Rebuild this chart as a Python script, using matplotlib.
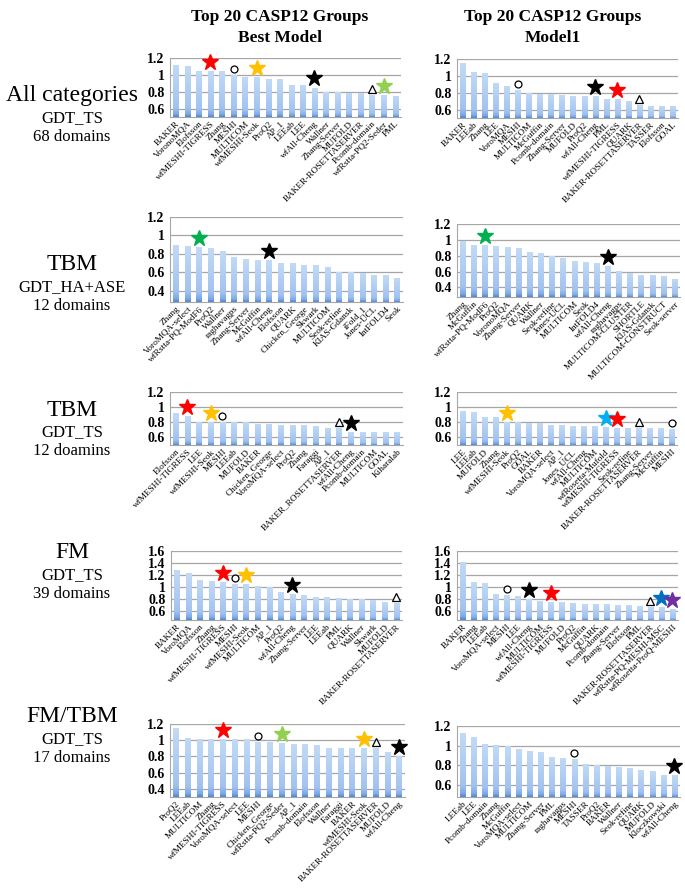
import matplotlib
matplotlib.use('Agg')
import matplotlib.pyplot as plt
import matplotlib.transforms as mtransforms
from matplotlib.colors import LinearSegmentedColormap
from matplotlib.ticker import FuncFormatter
import numpy as np

plt.rcParams['font.family'] = ['Liberation Serif', 'DejaVu Serif']

# ========== data ==========
# All categories, GDT_TS
all_best_groups = ['BAKER', 'VoronoMQA', 'Elofsson', 'wfMESHI-TIGRESS', 'Zhang', 'MESHI', 'MULTICOM',
                   'wfMESHI-Seok', 'ProQ2', 'AP_1', 'LEEab', 'LEE', 'wfAll-Cheng', 'Wallner',
                   'Zhang-Server', 'MUFOLD', 'BAKER-ROSETTASERVER', 'Pcomb-domain',
                   'wfRstta-PQ2-Seder', 'PML']
all_best_vals = [1.12, 1.11, 1.05, 1.04, 1.04, 1.00, 0.97, 0.97, 0.95, 0.95,
                 0.88, 0.88, 0.85, 0.80, 0.80, 0.79, 0.79, 0.76, 0.76, 0.75]
all_best_marks = [(3, 'red'), (5, 'circle'), (7, 'yellow'), (12, 'black'), (17, 'tri'), (18, 'lgreen')]

all_m1_groups = ['BAKER', 'LEEab', 'Zhang', 'LEE', 'VoroMQA', 'MESHI', 'MULTICOM', 'McGuffin',
                 'Pcomb-domain', 'Zhang-Server', 'MUFOLD', 'ProQ2', 'wfAll-Cheng', 'PML',
                 'wfMESHI-TIGRESS', 'QUARK', 'BAKER-ROSETTASERVER', 'TASSER', 'Elofsson', 'GOAL']
all_m1_vals = [1.15, 1.05, 1.03, 0.92, 0.88, 0.83, 0.80, 0.78, 0.78, 0.77,
               0.76, 0.76, 0.76, 0.73, 0.72, 0.70, 0.66, 0.64, 0.64, 0.64]
all_m1_marks = [(5, 'circle'), (12, 'black'), (14, 'red'), (16, 'tri')]

# TBM, GDT_HA+ASE
tbmha_best_groups = ['Zhang', 'VoroMQA-select', 'wfRstta-PQ-ModF6', 'ProQ2', 'Wallner', 'raghavagps',
                     'Zhang-Server', 'McGuffin', 'wfAll-Cheng', 'Elofsson', 'QUARK', 'Chicken_George',
                     'Skwark', 'MULTICOM', 'Seok-refine', 'KIAS-Gdansk', 'iFold_1', 'Jones-UCL',
                     'IntFOLD4', 'Seok']
tbmha_best_vals = [0.90, 0.89, 0.87, 0.86, 0.83, 0.77, 0.75, 0.73, 0.73, 0.70,
                   0.70, 0.68, 0.68, 0.66, 0.61, 0.60, 0.59, 0.57, 0.57, 0.54]
tbmha_best_marks = [(2, 'green'), (8, 'black')]

tbmha_m1_groups = ['Zhang', 'McGuffin', 'wfRstta-PQ-ModF6', 'ProQ2', 'VoronoMQA', 'Zhang-Server',
                   'QUARK', 'Wallner', 'Seok-refine', 'Jones-UCL', 'MULTICOM', 'Seok', 'IntFOLD4',
                   'wfAll-Cheng', 'raghavagps', 'MULTICOM-CLUSTER', 'SHORTLE', 'KIAS-Gdansk',
                   'MULTICOM-CONSTRUCT', 'Seok-server']
tbmha_m1_vals = [0.99, 0.94, 0.93, 0.92, 0.91, 0.90, 0.85, 0.84, 0.80, 0.77,
                 0.73, 0.72, 0.71, 0.67, 0.61, 0.58, 0.56, 0.56, 0.54, 0.51]
tbmha_m1_marks = [(2, 'green'), (13, 'black')]

# TBM, GDT_TS
tbmts_best_groups = ['Elofsson', 'wfMESHI-TIGRESS', 'LEE', 'wfMESHI-Seok', 'MESHI', 'LEEab', 'MUFOLD',
                     'BAKER', 'Chicken_George', 'VoroMQA-select', 'ProQ2', 'Zhang', 'Faraggi', 'AP_1',
                     'BAKER_ROSETTASERVER', 'wfAll-Cheng', 'Pcomb-domain', 'MULTICOM', 'GOAL',
                     'Kiharalab']
tbmts_best_vals = [0.92, 0.88, 0.81, 0.80, 0.80, 0.80, 0.80, 0.78, 0.78, 0.77,
                   0.77, 0.76, 0.75, 0.73, 0.73, 0.67, 0.67, 0.67, 0.67, 0.67]
tbmts_best_marks = [(1, 'red'), (3, 'yellow'), (4, 'circle'), (14, 'tri'), (15, 'black')]

tbmts_m1_groups = ['LEE', 'LEEab', 'MUFOLD', 'Zhang', 'wfMESHI-Seok', 'ProQ2', 'GOAL', 'BAKER',
                   'VoroMQA-select', 'AP_1', 'Jones_UCL', 'wfAll-Cheng', 'MULTICOM',
                   'wfRosetta-Mufold', 'wfMESHI-TIGRESS', 'Seok-refine', 'BAKER-ROSETTASERVER',
                   'Zhang-Server', 'McGuffin', 'MESHI']
tbmts_m1_vals = [0.95, 0.93, 0.87, 0.87, 0.80, 0.80, 0.79, 0.79, 0.77, 0.76,
                 0.75, 0.75, 0.75, 0.74, 0.73, 0.73, 0.72, 0.72, 0.72, 0.71]
tbmts_m1_marks = [(4, 'yellow'), (13, 'blue'), (14, 'red'), (16, 'tri'), (19, 'circle')]

# FM, GDT_TS
fm_best_groups = ['BAKER', 'VoroMQA', 'Elofsson', 'Zhang', 'wfMESHI-TIGRESS', 'MESHI', 'wfMESHI-Seok',
                  'MULTICOM', 'AP_1', 'ProQ2', 'wfAll-Cheng', 'Zhang-Server', 'LEE', 'LEEab', 'PML',
                  'QUARK', 'Wallner', 'Skwark', 'MUFOLD', 'BAKER-ROSETTASERVER']
fm_best_vals = [1.28, 1.23, 1.12, 1.10, 1.08, 1.05, 1.05, 1.01, 1.00, 0.91,
                0.89, 0.86, 0.83, 0.83, 0.81, 0.80, 0.80, 0.79, 0.75, 0.74]
fm_best_marks = [(4, 'red'), (5, 'circle'), (6, 'yellow'), (10, 'black'), (19, 'tri')]

fm_m1_groups = ['BAKER', 'Zhang', 'LEEab', 'VoroMQA-select', 'MESHI', 'LEE', 'wfAll-Cheng', 'MULTICOM',
                'wfMESHI-TIGRESS', 'MUFOLD', 'ProQ2', 'McGuffin', 'QUARK', 'Pcomb-domain',
                'Zhang-Server', 'Elofsson', 'PML', 'BAKER-ROSETTASERVER', 'wfRstta-PQ-MESHI-MSC',
                'wfRosetta-ProQ-MESHI']
fm_m1_vals = [1.42, 1.08, 1.06, 0.88, 0.86, 0.85, 0.80, 0.77, 0.75, 0.75,
              0.74, 0.71, 0.71, 0.71, 0.70, 0.70, 0.68, 0.67, 0.66, 0.64]
fm_m1_marks = [(4, 'circle'), (6, 'black'), (8, 'red'), (17, 'tri'), (18, 'dblue'), (19, 'purple')]

# FM/TBM, GDT_TS
fmtbm_best_groups = ['ProQ2', 'LEEab', 'MULTICOM', 'Zhang', 'wfMESHI-TIGRESS', 'VoroMQA-select', 'LEE',
                     'MESHI', 'Chicken_George', 'wfRstta-PQ2-Seder', 'AP_1', 'Pcomb-domain', 'Elofsson',
                     'Wallner', 'Faraggi', 'BAKER', 'wfMESHI-Seok', 'BAKER-ROSETTASERVER', 'MUFOLD',
                     'wfAll-Cheng']
fmtbm_best_vals = [1.15, 1.03, 1.02, 1.02, 1.02, 1.01, 1.01, 0.98, 0.98, 0.96,
                   0.95, 0.95, 0.94, 0.91, 0.91, 0.91, 0.90, 0.90, 0.85, 0.81]
fmtbm_best_marks = [(4, 'red'), (7, 'circle'), (9, 'lgreen'), (16, 'yellow'), (17, 'tri'), (19, 'black')]

fmtbm_m1_groups = ['LEEab', 'LEE', 'Pcomb-domain', 'Zhang', 'McGuffin', 'VoroMQA-select', 'MULTICOM',
                   'Zhang-Server', 'PML', 'raghavagps', 'MESHI', 'TASSER', 'ProQ2', 'BAKER', 'Wallner',
                   'Seok-refine', 'QUARK', 'MUFOLD', 'Kloczkowski', 'wfAll-Cheng']
fmtbm_m1_vals = [1.13, 1.09, 1.02, 1.01, 1.00, 0.97, 0.95, 0.94, 0.89, 0.88,
                 0.87, 0.81, 0.80, 0.79, 0.78, 0.77, 0.75, 0.74, 0.70, 0.70]
fmtbm_m1_marks = [(10, 'circle'), (19, 'black')]

row_titles = [('All categories', 'GDT_TS', '68 domains'),
              ('TBM', 'GDT_HA+ASE', '12 domains'),
              ('TBM', 'GDT_TS', '12 doamins'),
              ('FM', 'GDT_TS', '39 domains'),
              ('FM/TBM', 'GDT_TS', '17 domains')]

# ========== styles ==========
star_colors = {'red': '#ff0000', 'yellow': '#ffc000', 'black': '#000000', 'green': '#00b050',
               'lgreen': '#92d050', 'blue': '#00b0f0', 'dblue': '#0070c0', 'purple': '#7030a0'}

# excel-like bar gradient (bottom darker, top lighter)
bar_cmap = LinearSegmentedColormap.from_list(
    'xlbar', [(0.0, '#4f86d3'), (0.06, '#7faae6'), (0.18, '#a2c3ef'), (1.0, '#c2daf6')])
grad = np.linspace(0, 1, 128).reshape(-1, 1)

fig = plt.figure(figsize=(6.85, 8.91), dpi=100)
W, H = 685.0, 891.0


def px_axes(x0, x1, y0, y1):
    return fig.add_axes([x0 / W, 1 - y1 / H, (x1 - x0) / W, (y1 - y0) / H])


def draw_panel(ax, groups, vals, marks, ylim, yticks):
    x = list(range(len(vals)))
    lo, hi = ylim
    bw = 0.46
    bars = ax.bar(x, [v - lo for v in vals], bottom=lo, width=bw, color='none', zorder=2)
    for xi, v, b in zip(x, vals, bars):
        im = ax.imshow(grad, cmap=bar_cmap, origin='lower', aspect='auto', zorder=2,
                       extent=[xi - bw / 2, xi + bw / 2, lo, v], interpolation='bilinear')
        im.set_clip_path(b)
    ax.set_xlim(-0.5, len(vals) - 0.5)
    ax.set_ylim(lo, hi)
    ax.set_yticks(yticks)
    ax.yaxis.set_major_formatter(FuncFormatter(lambda v, p: '{:g}'.format(round(v, 2))))
    ax.grid(axis='y', color='#a6a6a6', linewidth=0.9, zorder=0)
    ax.set_axisbelow(True)
    for sp in ['top', 'right']:
        ax.spines[sp].set_visible(False)
    for sp in ['left', 'bottom']:
        ax.spines[sp].set_color('#a6a6a6')
    ax.tick_params(axis='y', length=0, pad=4, labelsize=10)
    for lab in ax.get_yticklabels():
        lab.set_fontweight('bold')
    ax.set_xticks(x)
    ax.set_xticklabels(groups, rotation=45, ha='right', rotation_mode='anchor', fontsize=6.7)
    ax.tick_params(axis='x', length=0, pad=2)
    for i, kind in marks:
        if kind == 'circle':
            style = dict(marker='o', ms=5, mfc='white', mec='black', mew=0.9)
            dy = 6
        elif kind == 'tri':
            style = dict(marker='^', ms=5.5, mfc='white', mec='black', mew=0.9)
            dy = 6
        else:
            style = dict(marker='*', ms=12, color=star_colors[kind], mec=star_colors[kind])
            dy = 9
        tr = ax.transData + mtransforms.ScaledTranslation(0, dy / 100.0, fig.dpi_scale_trans)
        ax.plot([i], [vals[i]], transform=tr, clip_on=False, zorder=5, linestyle='none', **style)


t1 = [0.6, 0.8, 1.0, 1.2]
t2 = [0.4, 0.6, 0.8, 1.0, 1.2]
t3 = [0.6, 0.8, 1.0, 1.2, 1.4, 1.6]

panels = [
    ((170, 401, 58, 117), all_best_groups, all_best_vals, all_best_marks, (0.5, 1.2), t1),
    ((457, 678, 59, 118), all_m1_groups, all_m1_vals, all_m1_marks, (0.5, 1.2), t1),
    ((170, 403, 217, 302), tbmha_best_groups, tbmha_best_vals, tbmha_best_marks, (0.28, 1.2), t2),
    ((457, 680, 224, 297), tbmha_m1_groups, tbmha_m1_vals, tbmha_m1_marks, (0.28, 1.2), t2),
    ((170, 403, 392, 445), tbmts_best_groups, tbmts_best_vals, tbmts_best_marks, (0.5, 1.2), t1),
    ((457, 677, 392, 445), tbmts_m1_groups, tbmts_m1_vals, tbmts_m1_marks, (0.5, 1.2), t1),
    ((171, 402, 551, 620), fm_best_groups, fm_best_vals, fm_best_marks, (0.45, 1.6), t3),
    ((457, 678, 551, 620), fm_m1_groups, fm_m1_vals, fm_m1_marks, (0.45, 1.6), t3),
    ((170, 405, 724, 797), fmtbm_best_groups, fmtbm_best_vals, fmtbm_best_marks, (0.3, 1.2), t2),
    ((457, 680, 726, 797), fmtbm_m1_groups, fmtbm_m1_vals, fmtbm_m1_marks, (0.48, 1.2), t1),
]

for box, g, v, m, yl, yt in panels:
    ax = px_axes(*box)
    draw_panel(ax, g, v, m, yl, yt)

# column titles
for cx, second in [(280, 'Best Model'), (553, 'Model1')]:
    fig.text(cx / W, 1 - 17 / H, 'Top 20 CASP12 Groups', ha='center', va='center',
             fontsize=12.5, fontweight='bold')
    fig.text(cx / W, 1 - 38 / H, second, ha='center', va='center', fontsize=12.5, fontweight='bold')

# row titles
row_y = [96, 265, 410, 553, 717]
for (name, metric, ndom), y in zip(row_titles, row_y):
    fig.text(72 / W, 1 - y / H, name, ha='center', va='center', fontsize=17)
    fig.text(72 / W, 1 - (y + 22) / H, metric, ha='center', va='center', fontsize=12)
    fig.text(72 / W, 1 - (y + 41) / H, ndom, ha='center', va='center', fontsize=12)

plt.savefig('out.png', dpi=100)
